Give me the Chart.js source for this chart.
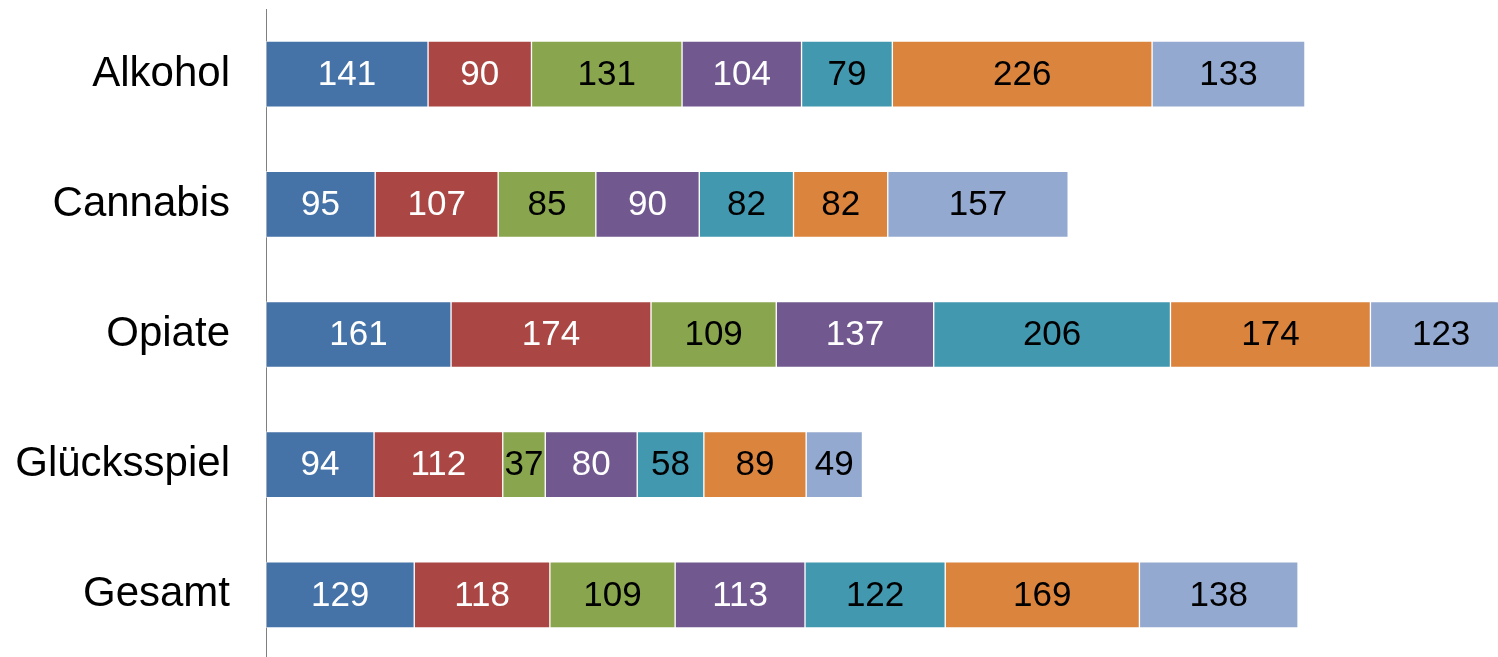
<!DOCTYPE html>
<html lang="de">
<head>
<meta charset="utf-8">
<title>Stacked bars</title>
<script src="https://cdn.jsdelivr.net/npm/chart.js@4/dist/chart.umd.min.js"></script>
<style>
  html, body { margin: 0; padding: 0; background: #fff; overflow: hidden; }
  #wrap { position: absolute; left: 0; top: 0; width: 1498px; height: 660px; }
</style>
</head>
<body>
<div id="wrap"><canvas id="barChart"></canvas></div>
<script>
// categories (top to bottom)
const categories = ["Alkohol", "Cannabis", "Opiate", "Glücksspiel", "Gesamt"];

// one array per series
const series1 = [141, 95, 161, 94, 129];
const series2 = [90, 107, 174, 112, 118];
const series3 = [131, 85, 109, 37, 109];
const series4 = [104, 90, 137, 80, 113];
const series5 = [79, 82, 206, 58, 122];
const series6 = [226, 82, 174, 89, 169];
const series7 = [133, 157, 123, 49, 138];

const seriesValues = [series1, series2, series3, series4, series5, series6, series7];
const seriesColors = ["#4572a7", "#aa4643", "#89a54e", "#71588f", "#4198af", "#db843d", "#93a9cf"];
const labelColors = ["#ffffff", "#ffffff", "#000000", "#ffffff", "#000000", "#000000", "#000000"];

const FONT = "'Liberation Sans', Arial, sans-serif";

// draws the value in the middle of every segment
const segmentLabels = {
  id: "segmentLabels",
  afterDatasetsDraw(chart) {
    const ctx = chart.ctx;
    ctx.save();
    ctx.font = "35px " + FONT;
    ctx.textAlign = "center";
    ctx.textBaseline = "middle";
    chart.data.datasets.forEach((ds, i) => {
      const meta = chart.getDatasetMeta(i);
      meta.data.forEach((bar, j) => {
        const cx = (bar.x + bar.base) / 2;
        ctx.fillStyle = labelColors[i];
        ctx.fillText(String(ds.data[j]), cx, bar.y + 1);
      });
    });
    ctx.restore();
  }
};

const datasets = seriesValues.map((vals, i) => ({
  label: "Reihe " + (i + 1),
  data: vals,
  backgroundColor: seriesColors[i],
  borderColor: "rgba(255,255,255,0.55)",
  borderWidth: 1,
  borderSkipped: false,
  barThickness: 66
}));

new Chart(document.getElementById("barChart"), {
  type: "bar",
  data: { labels: categories, datasets },
  plugins: [segmentLabels],
  options: {
    indexAxis: "y",
    responsive: true,
    maintainAspectRatio: false,
    animation: false,
    layout: { padding: { top: 9, right: 0, bottom: 0, left: 0 } },
    plugins: {
      legend: { display: false },
      tooltip: { enabled: false }
    },
    scales: {
      x: {
        stacked: true,
        display: false,
        min: 0,
        max: 1072
      },
      y: {
        stacked: true,
        afterFit: (scale) => {
          // fixed axis width, no extra room above/below for the labels
          scale.width = 266;
          scale.paddingTop = 0;
          scale.paddingBottom = 0;
        },
        grid: { display: false, drawTicks: false },
        border: { display: true, color: "#808080", width: 1 },
        ticks: {
          color: "#000000",
          padding: 36,
          font: { family: FONT, size: 42 }
        }
      }
    }
  }
});
</script>
</body>
</html>
